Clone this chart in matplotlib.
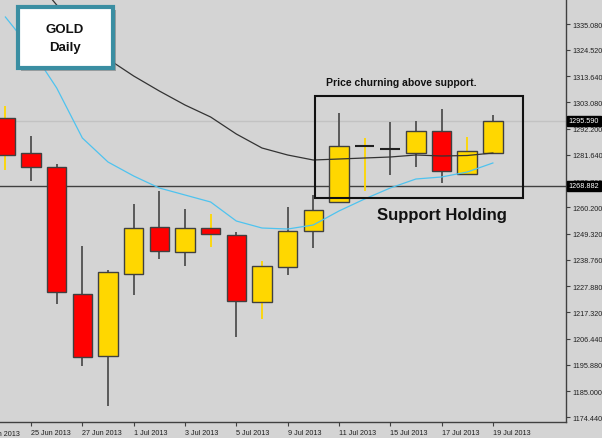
import matplotlib
matplotlib.use("Agg")
import matplotlib.pyplot as plt
import matplotlib.transforms as mtransforms
from matplotlib.patches import Rectangle

plt.rcParams['font.family'] = ['Liberation Sans', 'DejaVu Sans']

# daily gold candles, 24 Jun 2013 .. 19 Jul 2013
dates = ["24 Jun", "25 Jun", "26 Jun", "27 Jun", "28 Jun", "1 Jul", "2 Jul", "3 Jul",
         "4 Jul", "5 Jul", "8 Jul", "9 Jul", "10 Jul", "11 Jul", "12 Jul", "15 Jul",
         "16 Jul", "17 Jul", "18 Jul", "19 Jul"]
opens = [1296.67, 1282.36, 1276.76, 1224.74, 1199.53, 1232.91, 1252.24, 1242.03,
         1251.59, 1248.98, 1221.47, 1235.90, 1250.61, 1262.22, 1285.10, 1284.00,
         1282.36, 1291.23, 1273.78, 1282.36]
highs = [1301.57, 1289.31, 1277.87, 1244.23, 1234.67, 1261.52, 1266.96, 1259.48,
         1257.43, 1249.96, 1238.10, 1260.42, 1265.20, 1298.71, 1288.37, 1294.91,
         1295.56, 1300.34, 1288.78, 1297.89]
lows = [1275.42, 1271.04, 1220.66, 1195.44, 1178.97, 1224.33, 1239.04, 1236.31,
        1244.07, 1207.29, 1214.53, 1232.63, 1243.42, 1262.22, 1266.96, 1273.37,
        1276.52, 1269.98, 1273.50, 1282.36]
closes = [1281.67, 1276.76, 1225.44, 1199.12, 1233.61, 1251.59, 1242.44, 1251.84,
          1249.26, 1222.00, 1236.31, 1250.61, 1259.07, 1285.35, 1285.10, 1284.00,
          1291.48, 1275.13, 1283.30, 1295.59]
ma_fast = [1337.94, 1324.86, 1308.93, 1288.49, 1278.68, 1272.96, 1268.06, 1265.20,
           1262.34, 1254.57, 1251.71, 1251.30, 1252.94, 1258.66, 1263.56, 1268.06,
           1271.74, 1272.56, 1274.60, 1278.28]
ma_slow = [1367.77, 1355.51, 1342.84, 1332.02, 1320.78, 1313.83, 1307.70, 1301.98,
           1297.07, 1290.13, 1284.41, 1281.55, 1279.50, 1279.91, 1280.32, 1280.73,
           1281.55, 1281.14, 1281.34, 1282.36]
support = 1268.882
bid = 1295.590
yticks = [1174.44, 1185.0, 1195.88, 1206.44, 1217.32, 1227.88, 1238.76, 1249.32,
          1260.2, 1270.76, 1281.64, 1292.2, 1303.08, 1313.64, 1324.52, 1335.08]
xlabels = ["25 Jun 2013", "27 Jun 2013", "1 Jul 2013", "3 Jul 2013", "5 Jul 2013",
           "9 Jul 2013", "11 Jul 2013", "15 Jul 2013", "17 Jul 2013", "19 Jul 2013"]
# candles whose wick is drawn in yellow on the original chart
yellow_wick = [0, 8, 10, 14, 18]

bg = '#d4d4d4'
up_col = '#ffd700'
dn_col = '#ff0000'
fs_small = 5.2

W, H = 602, 439
fig = plt.figure(figsize=(W / 100, H / 100), dpi=100, facecolor=bg)
ax = fig.add_axes([0, (H - 423) / H, 566 / W, 423 / H])
ax.set_facecolor(bg)

x = list(range(len(dates)))
for i in x:
    o, h, l, c = opens[i], highs[i], lows[i], closes[i]
    wc = up_col if i in yellow_wick else '#505050'
    ax.vlines(i, l, h, color=wc, lw=1.3, zorder=2)
    if o == c:
        ax.hlines(o, i - 0.38, i + 0.38, color='#202020', lw=1.5, zorder=3)
    else:
        col = up_col if c > o else dn_col
        ax.bar(i, abs(c - o), bottom=min(o, c), width=0.76, color=col,
               edgecolor='#404040', linewidth=1.0, zorder=3)

ax.plot(x, ma_slow, color='#333333', lw=0.9, zorder=4)
ax.plot(x, ma_fast, color='#4ec3ef', lw=0.9, zorder=4)
ax.axhline(support, color='#404040', lw=1.0, zorder=1)
ax.axhline(bid, color='#c2c2c2', lw=1.0, zorder=1)

ax.set_xlim(-0.21, 21.85)
ax.set_ylim(1172.43, 1345.30)

for s in ['left', 'top']:
    ax.spines[s].set_visible(False)
for s in ['right', 'bottom']:
    ax.spines[s].set_color('#404040')
    ax.spines[s].set_linewidth(1.0)

ax.yaxis.tick_right()
ax.set_yticks(yticks)
ax.set_yticklabels(['%.3f' % v for v in yticks])
ax.tick_params(axis='y', direction='out', length=3, pad=1.5, labelsize=fs_small,
               color='#404040', labelcolor='#202020')
ax.set_xticks(x[1::2])
ax.set_xticklabels(xlabels, ha='left')
ax.tick_params(axis='x', direction='out', length=3, pad=2, labelsize=fs_small,
               color='#404040', labelcolor='#202020')
ax.text(-1, -0.018, "21 Jun 2013", transform=mtransforms.blended_transform_factory(ax.transData, ax.transAxes),
        ha='left', va='top', fontsize=fs_small, color='#202020', clip_on=False)

# price flags on the right axis
trans = mtransforms.blended_transform_factory(ax.transAxes, ax.transData)
for p in [bid, support]:
    ax.text(1.005, p, '%.3f' % p, transform=trans, ha='left', va='center',
            fontsize=fs_small, color='white', clip_on=False, zorder=6,
            bbox=dict(boxstyle='square,pad=0.2', fc='black', ec='black'))

# "GOLD Daily" label box
fig.patches.append(Rectangle((21 / W, 1 - 72 / H), 95 / W, 61 / H, transform=fig.transFigure,
                             fc='#7a7a7a', ec='none', alpha=0.6, zorder=8))
fig.patches.append(Rectangle((18 / W, 1 - 69 / H), 95 / W, 61 / H, transform=fig.transFigure,
                             fc='white', ec='#3a8ea2', lw=3, zorder=9))
fig.text(65 / W, 1 - 30 / H, "GOLD", ha='center', va='center', fontsize=9.5,
         fontweight='bold', color='#111111', zorder=10)
fig.text(65 / W, 1 - 48 / H, "Daily", ha='center', va='center', fontsize=9.5,
         fontweight='bold', color='#111111', zorder=10)

# consolidation box
fig.patches.append(Rectangle((315 / W, 1 - 199 / H), 208 / W, 102 / H, transform=fig.transFigure,
                             fc='none', ec='#111111', lw=1.5, zorder=7))
fig.text(401 / W, 1 - 83 / H, "Price churning above support.", ha='center', va='center',
         fontsize=7.5, fontweight='bold', color='#111111')
fig.text(442 / W, 1 - 216 / H, "Support Holding", ha='center', va='center',
         fontsize=12, fontweight='bold', color='#111111')

fig.savefig('out.png', dpi=100, facecolor=bg)
